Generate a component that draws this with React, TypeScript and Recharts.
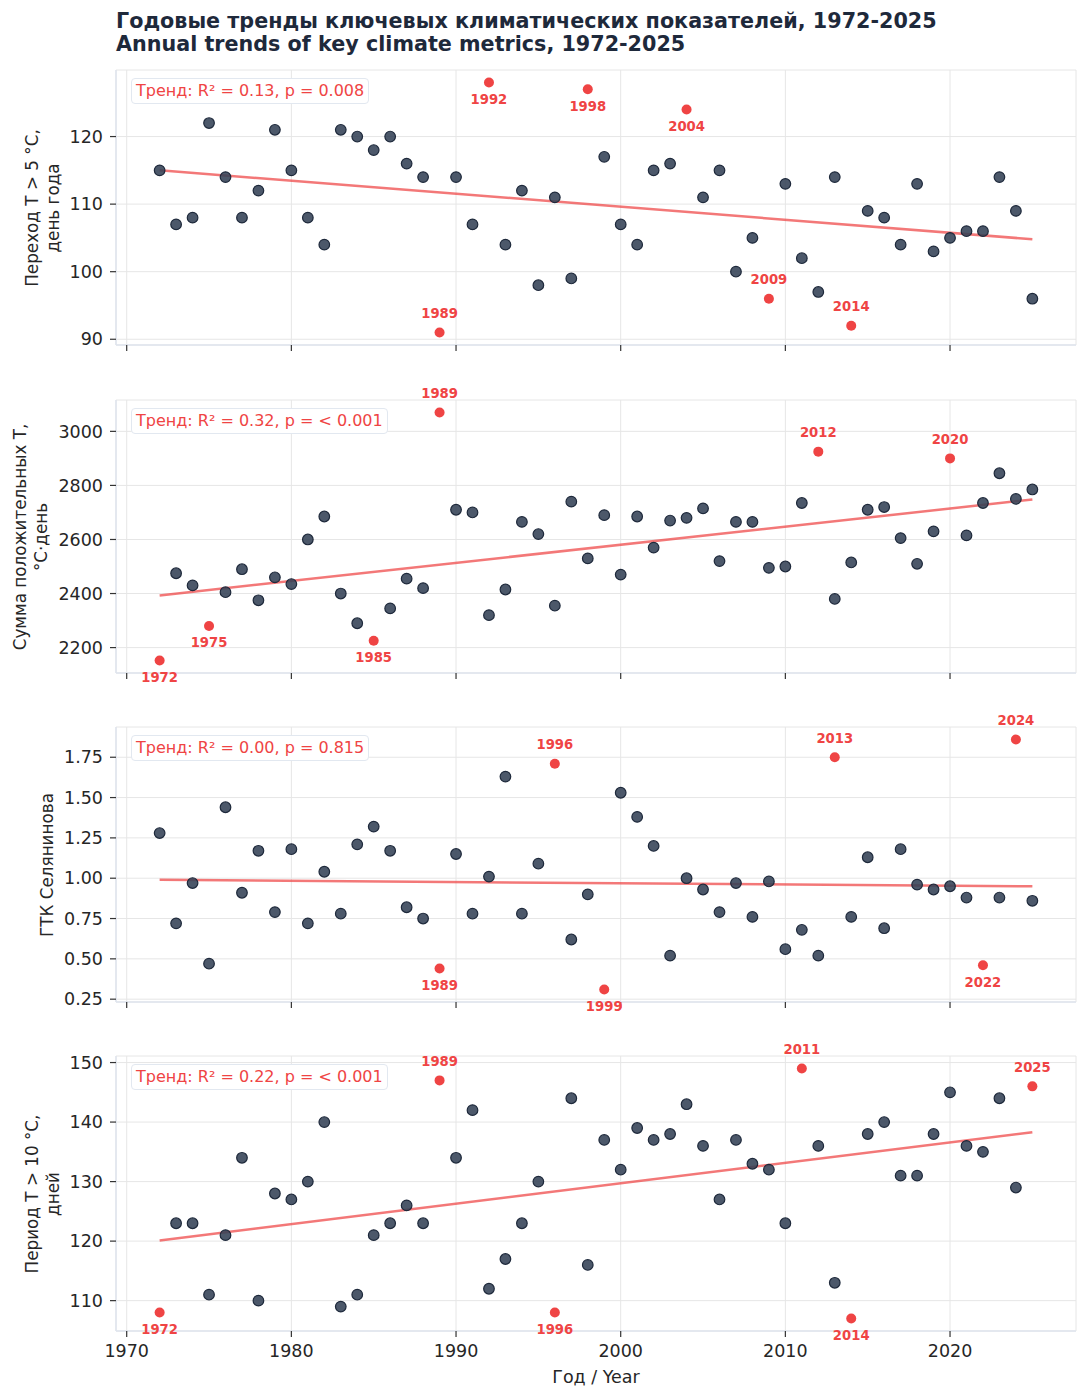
import { ScatterChart, Scatter, XAxis, YAxis, CartesianGrid } from "recharts";

const years = [
  1972, 1973, 1974, 1975, 1976, 1977, 1978, 1979, 1980, 1981, 1982, 1983, 1984, 1985,
  1986, 1987, 1988, 1989, 1990, 1991, 1992, 1993, 1994, 1995, 1996, 1997, 1998, 1999,
  2000, 2001, 2002, 2003, 2004, 2005, 2006, 2007, 2008, 2009, 2010, 2011, 2012, 2013,
  2014, 2015, 2016, 2017, 2018, 2019, 2020, 2021, 2022, 2023, 2024, 2025,
];

// день перехода через +5 °C
const onsetDay = [
  115, 107, 108, 122, 114, 108, 112, 121, 115, 108, 104, 121, 120, 118,
  120, 116, 114, 91, 114, 107, 128, 104, 112, 98, 111, 99, 127, 117,
  107, 104, 115, 116, 124, 111, 115, 100, 105, 96, 113, 102, 97, 114,
  92, 109, 108, 104, 113, 103, 105, 106, 106, 114, 109, 96,
];

// сумма положительных температур
const heatSum = [
  2152, 2475, 2430, 2280, 2405, 2490, 2375, 2460, 2435, 2600, 2685, 2400, 2290, 2225,
  2345, 2455, 2420, 3070, 2710, 2700, 2320, 2415, 2665, 2620, 2355, 2740, 2530, 2690,
  2470, 2685, 2570, 2670, 2680, 2715, 2520, 2665, 2665, 2495, 2500, 2735, 2925, 2380,
  2515, 2710, 2720, 2605, 2510, 2630, 2900, 2615, 2735, 2845, 2750, 2785,
];

// ГТК Селянинова
const htc = [
  1.28, 0.72, 0.97, 0.47, 1.44, 0.91, 1.17, 0.79, 1.18, 0.72, 1.04, 0.78, 1.21, 1.32,
  1.17, 0.82, 0.75, 0.44, 1.15, 0.78, 1.01, 1.63, 0.78, 1.09, 1.71, 0.62, 0.9, 0.31,
  1.53, 1.38, 1.2, 0.52, 1.0, 0.93, 0.79, 0.97, 0.76, 0.98, 0.56, 0.68, 0.52, 1.75,
  0.76, 1.13, 0.69, 1.18, 0.96, 0.93, 0.95, 0.88, 0.46, 0.88, 1.86, 0.86,
];

// период T > 10 °C, дней
const warmPeriod = [
  108, 123, 123, 111, 121, 134, 110, 128, 127, 130, 140, 109, 111, 121,
  123, 126, 123, 147, 134, 142, 112, 117, 123, 130, 108, 144, 116, 137,
  132, 139, 137, 138, 143, 136, 127, 137, 133, 132, 123, 149, 136, 113,
  107, 138, 140, 131, 131, 138, 145, 136, 135, 144, 129, 146,
];

const outliersOnset = [1989, 1992, 1998, 2004, 2009, 2014];
const outliersHeat = [1972, 1975, 1985, 1989, 2012, 2020];
const outliersHtc = [1989, 1996, 1999, 2013, 2022, 2024];
const outliersWarm = [1972, 1989, 1996, 2011, 2014, 2025];

// trend line values at 1972 and 2025
const trendOnset = [115.0, 104.8];
const trendHeat = [2393, 2748];
const trendHtc = [0.99, 0.95];
const trendWarm = [120.1, 138.3];

const xTicks = [1970, 1980, 1990, 2000, 2010, 2020];

const FONT = "'DejaVu Sans', sans-serif";
const RED = "#ef4444";
const GRID = "#e6e6e6";
const SPINE = "#dfe5ee";
const TEXT = "#262626";
const TOP = 25;

const panels = [
  {
    values: onsetDay,
    outliers: outliersOnset,
    trend: trendOnset,
    flip: true,
    domain: [89.15, 129.85],
    ticks: [90, 100, 110, 120],
    fmt: (v: number) => String(v),
    label: "Переход T > 5 °C,\nдень года",
    labelX: 42.5,
    stat: "Тренд: R² = 0.13, p = 0.008",
    top: 70,
    h: 275,
  },
  {
    values: heatSum,
    outliers: outliersHeat,
    trend: trendHeat,
    flip: false,
    domain: [2106, 3116],
    ticks: [2200, 2400, 2600, 2800, 3000],
    fmt: (v: number) => String(v),
    label: "Сумма положительных T,\n°C·день",
    labelX: 30.5,
    stat: "Тренд: R² = 0.32, p = < 0.001",
    top: 400,
    h: 273,
  },
  {
    values: htc,
    outliers: outliersHtc,
    trend: trendHtc,
    flip: false,
    domain: [0.2325, 1.9375],
    ticks: [0.25, 0.5, 0.75, 1.0, 1.25, 1.5, 1.75],
    fmt: (v: number) => v.toFixed(2),
    label: "ГТК Селянинова",
    labelX: 47,
    stat: "Тренд: R² = 0.00, p = 0.815",
    top: 727,
    h: 275,
  },
  {
    values: warmPeriod,
    outliers: outliersWarm,
    trend: trendWarm,
    flip: false,
    domain: [104.9, 151.1],
    ticks: [110, 120, 130, 140, 150],
    fmt: (v: number) => String(v),
    label: "Период T > 10 °C,\nдней",
    labelX: 42.5,
    stat: "Тренд: R² = 0.22, p = < 0.001",
    top: 1056,
    h: 275,
  },
];

type Cfg = (typeof panels)[number];

const Panel = ({ cfg, last }: { cfg: Cfg; last: boolean }) => {
  const [t0, t1] = cfg.trend;
  const trendAt = (y: number) => t0 + ((t1 - t0) * (y - 1972)) / (2025 - 1972);
  const pts = years.map((year, i) => ({ year, v: cfg.values[i] }));
  const normal = pts.filter((p) => !cfg.outliers.includes(p.year));
  const extreme = pts
    .filter((p) => cfg.outliers.includes(p.year))
    .map((p) => ({ ...p, above: p.v > trendAt(p.year) !== cfg.flip }));
  const trendData = [
    { year: 1972, v: t0 },
    { year: 2025, v: t1 },
  ];

  return (
    <>
      <div style={{ position: "absolute", left: 0, top: cfg.top - 8 - TOP }}>
        <ScatterChart
          width={1072}
          height={TOP + cfg.h + 34}
          margin={{ top: TOP, right: 4, bottom: 0, left: 0 }}
        >
          <CartesianGrid stroke={GRID} strokeWidth={1} />
          <XAxis
            type="number"
            dataKey="year"
            domain={[1969.35, 2027.65]}
            ticks={xTicks}
            height={34}
            axisLine={{ stroke: SPINE, strokeWidth: 1.5 }}
            tickLine={{ stroke: "#333", strokeWidth: 1.2 }}
            tickSize={6}
            tickMargin={8}
            tick={{ fill: TEXT, fontSize: 17.5, fontFamily: FONT }}
            tickFormatter={last ? (v: number) => String(v) : () => ""}
          />
          <YAxis
            type="number"
            dataKey="v"
            domain={cfg.domain}
            ticks={cfg.ticks}
            width={108}
            axisLine={{ stroke: SPINE, strokeWidth: 1.5 }}
            tickLine={{ stroke: "#333", strokeWidth: 1.2 }}
            tickSize={6}
            tickMargin={7}
            tick={{ fill: TEXT, fontSize: 17.5, fontFamily: FONT }}
            tickFormatter={cfg.fmt}
          />
          <Scatter
            data={trendData}
            isAnimationActive={false}
            line={{ stroke: RED, strokeWidth: 2.5, strokeOpacity: 0.72 }}
            shape={() => <g />}
          />
          <Scatter
            data={normal}
            isAnimationActive={false}
            shape={(p: any) => (
              <circle
                cx={p.cx}
                cy={p.cy}
                r={5.3}
                fill="#334155"
                fillOpacity={0.88}
                stroke="#1e293b"
                strokeWidth={1.2}
              />
            )}
          />
          <Scatter
            data={extreme}
            isAnimationActive={false}
            shape={(p: any) => (
              <g>
                <circle cx={p.cx} cy={p.cy} r={5} fill={RED} />
                <text
                  x={p.cx}
                  y={p.payload.above ? p.cy - 19 : p.cy + 17}
                  textAnchor="middle"
                  dominantBaseline="central"
                  fill={RED}
                  fontSize={13.2}
                  fontWeight="bold"
                  fontFamily={FONT}
                >
                  {p.payload.year}
                </text>
              </g>
            )}
          />
        </ScatterChart>
      </div>
      <div
        style={{
          position: "absolute",
          left: 123,
          top: cfg.top - 8 + 8,
          background: "#fff",
          border: "1px solid #e2e8f0",
          borderRadius: 4,
          padding: "1px 4px",
          fontSize: 16,
          lineHeight: "22px",
          color: RED,
          fontFamily: FONT,
          whiteSpace: "nowrap",
        }}
      >
        {cfg.stat}
      </div>
      <div
        style={{
          position: "absolute",
          left: cfg.labelX - 8,
          top: cfg.top - 8 + cfg.h / 2,
          transform: "translate(-50%, -50%) rotate(-90deg)",
          whiteSpace: "pre",
          textAlign: "center",
          fontSize: 16.8,
          lineHeight: "21px",
          color: TEXT,
          fontFamily: FONT,
        }}
      >
        {cfg.label}
      </div>
    </>
  );
};

export default function App() {
  return (
    <div style={{ position: "relative", width: 1072, height: 1392, fontFamily: FONT }}>
      <div
        style={{
          position: "absolute",
          left: 108,
          top: 2,
          fontSize: 20.7,
          fontWeight: "bold",
          lineHeight: "23px",
          color: "#1e293b",
          whiteSpace: "pre",
        }}
      >
        {"Годовые тренды ключевых климатических показателей, 1972-2025\nAnnual trends of key climate metrics, 1972-2025"}
      </div>
      {panels.map((cfg, i) => (
        <Panel key={i} cfg={cfg} last={i === panels.length - 1} />
      ))}
      <div
        style={{
          position: "absolute",
          left: 588,
          top: 1369,
          transform: "translate(-50%, -50%)",
          fontSize: 17.5,
          color: TEXT,
          whiteSpace: "nowrap",
        }}
      >
        Год / Year
      </div>
    </div>
  );
}
